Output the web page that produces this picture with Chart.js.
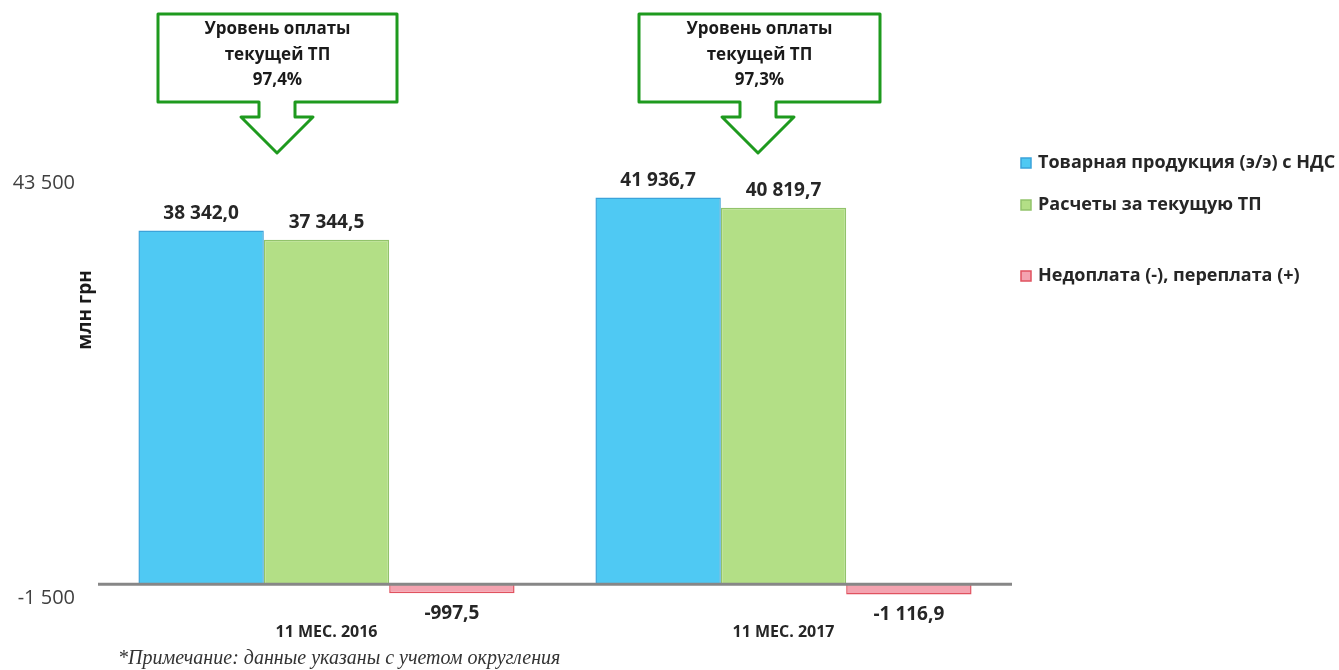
<!DOCTYPE html>
<html><head><meta charset="utf-8">
<script src="https://cdn.jsdelivr.net/npm/chart.js@4/dist/chart.umd.min.js"></script>
<style>
html,body{margin:0;padding:0;background:#fff;}
#wrap{position:relative;width:1339px;height:670px;}
#note{position:absolute;left:118px;top:645px;font-family:"Liberation Serif",serif;font-style:italic;font-size:20px;line-height:24px;color:#333;white-space:nowrap;}
</style></head>
<body><div id="wrap"><canvas id="c" width="1339" height="670"></canvas>
<div id="note">*Примечание: данные указаны с учетом округления</div></div>
<script>
const categories = ["11 МЕС. 2016", "11 МЕС. 2017"];
const seriesNames = ["Товарная продукция (э/э) с НДС", "Расчеты за текущую ТП", "Недоплата (-), переплата (+)"];
const productValues = [38342.0, 41936.7];
const paymentValues = [37344.5, 40819.7];
const balanceValues = [-997.5, -1116.9];
const yTicks = [-1500, 43500];
const paymentLevels = ["97,4%", "97,3%"];

const FONT = '"Open Sans", "Noto Sans", sans-serif';
function fmt(v, dec){
  const neg = v < 0; v = Math.abs(v);
  let s = dec ? v.toFixed(dec) : Math.round(v).toString();
  let [i, d] = s.split('.');
  i = i.replace(/\B(?=(\d{3})+(?!\d))/g, ' ');
  return (neg ? '-' : '') + i + (d ? ',' + d : '');
}

const extras = {
  id: 'extras',
  afterDatasetsDraw(chart){
    const ctx = chart.ctx, a = chart.chartArea, y = chart.scales.y;
    const y0 = y.getPixelForValue(0);
    ctx.save();
    ctx.strokeStyle = '#878787'; ctx.lineWidth = 3;
    ctx.beginPath(); ctx.moveTo(a.left, y0); ctx.lineTo(a.right, y0); ctx.stroke();
    // data labels
    ctx.fillStyle = '#262626';
    ctx.font = 'bold 19px ' + FONT;
    ctx.textAlign = 'center'; ctx.textBaseline = 'middle';
    chart.data.datasets.forEach((ds, di) => {
      chart.getDatasetMeta(di).data.forEach((bar, i) => {
        const v = ds.data[i];
        if (v >= 0) ctx.fillText(fmt(v,1), bar.x, bar.y - 17);
        else ctx.fillText(fmt(v,1), bar.x, bar.y + 20);
      });
    });
    // y title
    ctx.save();
    ctx.translate(86, 310); ctx.rotate(-Math.PI/2);
    ctx.textAlign = 'center'; ctx.textBaseline = 'middle';
    ctx.font = 'bold 19px ' + FONT; ctx.fillStyle = '#1a1a1a';
    ctx.fillText('млн грн', 0, 0);
    ctx.restore();
    // legend
    const ly = [163, 205, 276];
    chart.data.datasets.forEach((ds, di) => {
      ctx.fillStyle = ds.backgroundColor; ctx.strokeStyle = ds.borderColor; ctx.lineWidth = 1.5;
      ctx.fillRect(1021, ly[di]-5, 10, 10); ctx.strokeRect(1021, ly[di]-5, 10, 10);
      ctx.fillStyle = '#262626'; ctx.font = 'bold 18px ' + FONT;
      ctx.textAlign = 'left'; ctx.textBaseline = 'middle';
      ctx.fillText(ds.label, 1038, ly[di]);
    });
    // callouts
    const boxes = [{l:158, r:397, cx:277}, {l:639, r:880, cx:758}];
    boxes.forEach((b, k) => {
      ctx.beginPath();
      ctx.moveTo(b.l, 14); ctx.lineTo(b.r, 14); ctx.lineTo(b.r, 102);
      ctx.lineTo(b.cx+18, 102); ctx.lineTo(b.cx+18, 117); ctx.lineTo(b.cx+36, 117);
      ctx.lineTo(b.cx, 153); ctx.lineTo(b.cx-36, 117); ctx.lineTo(b.cx-18, 117);
      ctx.lineTo(b.cx-18, 102); ctx.lineTo(b.l, 102); ctx.closePath();
      ctx.fillStyle = '#fff'; ctx.fill();
      ctx.strokeStyle = '#1E9A1E'; ctx.lineWidth = 3; ctx.lineJoin = 'round'; ctx.stroke();
      ctx.fillStyle = '#1a1a1a'; ctx.font = 'bold 17px ' + FONT;
      ctx.textAlign = 'center'; ctx.textBaseline = 'middle';
      const mx = (b.l + b.r)/2;
      ctx.fillText('Уровень оплаты', mx, 29);
      ctx.fillText('текущей ТП', mx, 55);
      ctx.fillText(paymentLevels[k], mx, 80);
    });
    ctx.restore();
  }
};

new Chart(document.getElementById('c'), {
  type: 'bar',
  data: {
    labels: categories,
    datasets: [
      {label: seriesNames[0], data: productValues, backgroundColor: '#4FC9F3', borderColor: '#3BA3DA', borderWidth: 1.5},
      {label: seriesNames[1], data: paymentValues, backgroundColor: '#B3DF86', borderColor: '#92C36B', borderWidth: 1.5},
      {label: seriesNames[2], data: balanceValues, backgroundColor: '#F4A3B0', borderColor: '#E0525F', borderWidth: 1.5}
    ]
  },
  options: {
    responsive: false, animation: false,
    layout: {padding: {top: 183, right: 327, left: 0, bottom: 0}},
    categoryPercentage: 0.823, barPercentage: 1.0,
    plugins: {legend: {display: false}, tooltip: {enabled: false}},
    scales: {
      x: {
        grid: {display: false, drawTicks: false}, border: {display: false},
        ticks: {padding: 25, color: '#262626', font: {family: FONT, size: 16, weight: 'bold'}},
        afterFit(s){ s.height = 72; }
      },
      y: {
        min: yTicks[0], max: yTicks[1],
        grid: {display: false, drawTicks: false}, border: {display: false},
        afterBuildTicks(s){ s.ticks = yTicks.map(v => ({value: v})); },
        ticks: {padding: 23, color: '#404040', font: {family: FONT, size: 20}, callback: v => fmt(v)},
        afterFit(s){ s.width = 98; }
      }
    }
  },
  plugins: [extras]
});
</script></body></html>
